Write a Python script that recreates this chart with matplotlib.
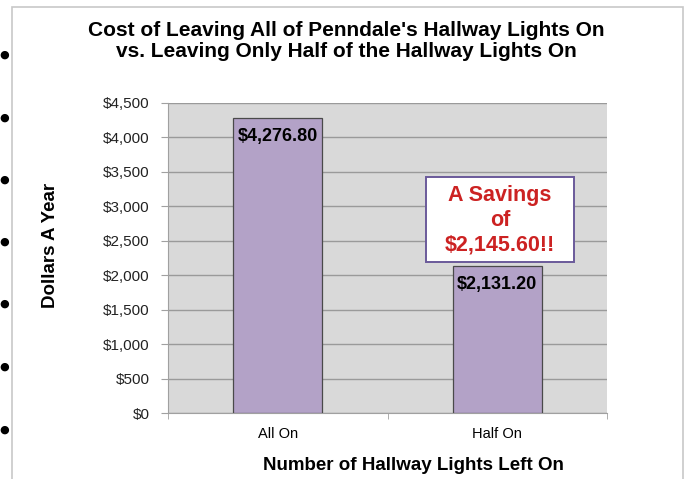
import matplotlib
matplotlib.use("Agg")
import matplotlib.pyplot as plt
from matplotlib.patches import Rectangle
from matplotlib.ticker import FuncFormatter

categories = ["All On", "Half On"]
costs = [4276.80, 2131.20]
savings = 2145.60

plt.rcParams['font.family'] = ['Liberation Sans', 'DejaVu Sans']

fig = plt.figure(figsize=(6.86, 4.79), dpi=100)
ax = fig.add_axes([168 / 686, 1 - 413 / 479, 439 / 686, 310 / 479])

# outer chart frame and the little dots on the left edge
fig.patches.append(Rectangle((12 / 686, -0.05), 671 / 686, 1 - 7 / 479 + 0.05,
                             transform=fig.transFigure, fill=False,
                             edgecolor="#c8c8c8", linewidth=1.2))
for yy in [55, 118, 180, 242, 304, 367, 430]:
    fig.text(4 / 686, 1 - yy / 479, "\u25cf", fontsize=8, ha="center", va="center",
             family="DejaVu Sans")

ax.set_facecolor("#d9d9d9")
x = range(len(categories))
ax.bar(x, costs, width=0.405, color="#b3a2c7", edgecolor="#4a4a4a", linewidth=0.9, zorder=3)
ax.set_xlim(-0.5, 1.5)
ax.set_ylim(0, 4500)
ax.set_yticks(range(0, 4501, 500))
ax.yaxis.set_major_formatter(FuncFormatter(lambda v, p: "${:,.0f}".format(v)))
ax.grid(axis="y", color="#9a9a9a", linewidth=1, zorder=1)
ax.set_axisbelow(True)

ax.set_xticks(list(x))
ax.set_xticklabels(categories, fontsize=10.5)
ax.set_xticks([-0.5, 0.5, 1.5], minor=True)
ax.tick_params(axis="x", which="major", length=0, pad=10)
ax.tick_params(axis="x", which="minor", length=4, color="#a0a0a0")
ax.tick_params(axis="y", labelsize=11, length=5, color="#a0a0a0", pad=8, labelcolor="#222222")

for s in ["top", "right"]:
    ax.spines[s].set_visible(False)
for s in ["left", "bottom"]:
    ax.spines[s].set_color("#a0a0a0")

for i, v in enumerate(costs):
    ax.annotate("${:,.2f}".format(v), (i, v), xytext=(0, -13), textcoords="offset points",
                ha="center", va="center", fontsize=13, fontweight="bold", zorder=4)

# callout box with the savings
ax.add_patch(Rectangle((0.588, 0.487), 0.337, 0.274, transform=ax.transAxes,
                       facecolor="white", edgecolor="#6a5a9a", linewidth=1.4, zorder=5))
ax.text(0.756, 0.622, "A Savings\nof\n${:,.2f}!!".format(savings), transform=ax.transAxes,
        ha="center", va="center", fontsize=15.5, fontweight="bold", color="#cc2222",
        linespacing=1.25, zorder=6)

ax.set_ylabel("Dollars A Year", fontsize=13.5, fontweight="bold", va="center")
ax.yaxis.set_label_coords(-(168 - 50) / 439, (413 - 245) / 310)
ax.set_xlabel("Number of Hallway Lights Left On", fontsize=13.5, fontweight="bold", va="center")
ax.xaxis.set_label_coords((413 - 168) / 439, -(465 - 413) / 310)

fig.text(346 / 686, 1 - 41 / 479,
         "Cost of Leaving All of Penndale's Hallway Lights On\nvs. Leaving Only Half of the Hallway Lights On",
         ha="center", va="center", fontsize=15, fontweight="bold", linespacing=1.15)

fig.savefig("out.png", dpi=100)
